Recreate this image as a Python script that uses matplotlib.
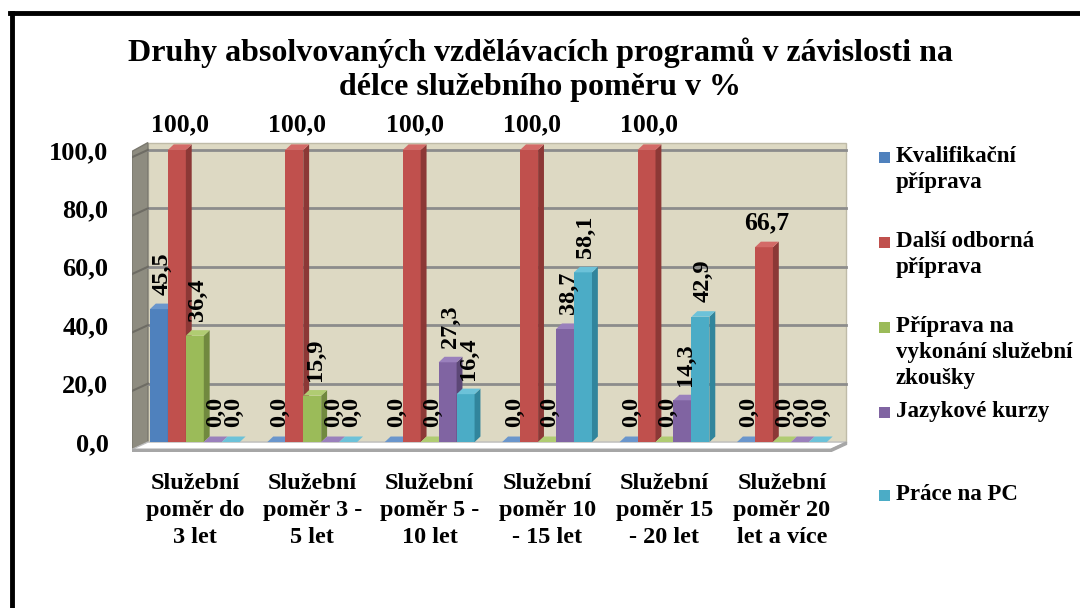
import matplotlib.pyplot as plt
from matplotlib.patches import Polygon, Rectangle

plt.rcParams['font.family'] = ['Liberation Serif', 'DejaVu Serif']
plt.rcParams['font.weight'] = 'bold'

categories = ['Služební\npoměr do\n3 let', 'Služební\npoměr 3 -\n5 let',
              'Služební\npoměr 5 -\n10 let', 'Služební\npoměr 10\n- 15 let',
              'Služební\npoměr 15\n- 20 let', 'Služební\npoměr 20\nlet a více']
series_names = ['Kvalifikační\npříprava', 'Další odborná\npříprava',
                'Příprava na\nvykonání služební\nzkoušky', 'Jazykové kurzy',
                'Práce na PC']
kvalifikacni = [45.5, 0.0, 0.0, 0.0, 0.0, 0.0]
dalsi = [100.0, 100.0, 100.0, 100.0, 100.0, 66.7]
zkouska = [36.4, 15.9, 0.0, 0.0, 0.0, 0.0]
jazyky = [0.0, 0.0, 27.3, 38.7, 14.3, 0.0]
pc = [0.0, 0.0, 16.4, 58.1, 42.9, 0.0]
values = [kvalifikacni, dalsi, zkouska, jazyky, pc]
yticks = [0, 20, 40, 60, 80, 100]

colors = ['#4F81BD', '#C0504D', '#9BBB59', '#8064A2', '#4BACC6']
sides = ['#385D8A', '#8C3836', '#71893F', '#5C4776', '#31859C']
tops = ['#6A96CC', '#D36A67', '#B0CC72', '#9A80BC', '#6CC2D9']


def fmt(v):
    return ('%.1f' % v).replace('.', ',')


fig = plt.figure(figsize=(10.8, 6.08), dpi=100)
W, H = 1080, 608
# axes in pixel terms: x 132..860, y 140..452
ax = fig.add_axes([132 / W, 1 - 452 / H, (860 - 132) / W, (452 - 140) / H])
ax.set_xlim(-0.535, 5.665)
ax.set_ylim(-3.4, 103.4)
for s in ax.spines.values():
    s.set_visible(False)

xL, xR = -0.40, 5.55
sw = 0.135  # left wall width
dx, dy = 0.05, 1.9  # bar depth

# walls and floor
ax.add_patch(Polygon([(xL, 0), (xR, 0), (xR, 102.5), (xL, 102.5)],
                     closed=True, fc='#DDD9C3', ec='#BFBBA8', lw=1, zorder=0))
ax.add_patch(Polygon([(xL - sw, -2.5), (xL, 0), (xL, 102.5), (xL - sw, 99.5)],
                     closed=True, fc='#8E8C80', ec='#7A786E', lw=1, zorder=0))
ax.add_patch(Polygon([(xL - sw, -2.5), (xR - sw, -2.5), (xR, 0), (xL, 0)],
                     closed=True, fc='white', ec='#BFBFBF', lw=1, zorder=0.5))
ax.add_patch(Polygon([(xL - sw, -3.3), (xR - sw, -3.3), (xR, -0.8), (xR, 0),
                      (xR - sw, -2.5), (xL - sw, -2.5)],
                     closed=True, fc='#A6A6A6', ec='#A6A6A6', lw=1, zorder=0.6))
for t in yticks[1:]:
    ax.plot([xL, xR], [t, t], color='#8C8C8C', lw=2, zorder=0.4)
    ax.plot([xL - sw, xL], [t - 2.5, t], color='#6E6C64', lw=1.5, zorder=0.4)

bw = 0.153
x = list(range(len(categories)))
for i, vals in enumerate(values):
    pos = [xi + (i - 2) * bw for xi in x]
    bars = ax.bar(pos, vals, bw, color=colors[i], zorder=2 + i * 0.1, lw=0)
    for b, v in zip(bars, vals):
        x0 = b.get_x()
        x1 = x0 + b.get_width()
        ax.add_patch(Polygon([(x1, 0), (x1 + dx, dy), (x1 + dx, v + dy), (x1, v)],
                             closed=True, fc=sides[i], lw=0, zorder=2 + i * 0.1))
        ax.add_patch(Polygon([(x0, v), (x1, v), (x1 + dx, v + dy), (x0 + dx, v + dy)],
                             closed=True, fc=tops[i], lw=0, zorder=2 + i * 0.1))
        cx = x0 + b.get_width() / 2 + dx / 2
        if i == 1:
            ax.text(cx, v + 4.5, fmt(v), ha='center', va='bottom',
                    fontsize=18.5, fontweight='bold', zorder=5)
        else:
            ax.text(cx, v + 5.0, fmt(v), ha='center', va='bottom',
                    rotation=90, fontsize=17.5, fontweight='bold', zorder=5)

ax.set_yticks(yticks)
ax.set_yticklabels([fmt(t) for t in yticks], fontsize=19, fontweight='bold')
ax.set_xticks(x)
ax.set_xticklabels(categories, fontsize=17.5, fontweight='bold', linespacing=1.38)
ax.tick_params(length=0)
ax.tick_params(axis='y', pad=17)
ax.tick_params(axis='x', pad=15)

fig.text(0.5, 1 - 70 / H, 'Druhy absolvovaných vzdělávacích programů v závislosti na\n'
         'délce služebního poměru v %', ha='center', va='center',
         fontsize=23, fontweight='bold', linespacing=1.22)

# legend
leg_y = [146, 231, 316, 401, 484]
for i, name in enumerate(series_names):
    fig.patches.append(Rectangle((879 / W, 1 - (leg_y[i] + 17) / H), 11 / W, 11 / H,
                                 transform=fig.transFigure, fc=colors[i], lw=0))
    fig.text(896 / W, 1 - leg_y[i] / H, name, ha='left', va='top',
             fontsize=16.5, fontweight='bold', linespacing=1.32)

# outer frame (top and left edges visible)
fig.add_artist(plt.Line2D([12 / W, 12 / W], [0, 1 - 13 / H], color='black', lw=3.5,
                          transform=fig.transFigure))
fig.add_artist(plt.Line2D([10 / W, 1], [1 - 13 / H, 1 - 13 / H], color='black', lw=3.5,
                          transform=fig.transFigure))

fig.savefig('out.png', dpi=100)
